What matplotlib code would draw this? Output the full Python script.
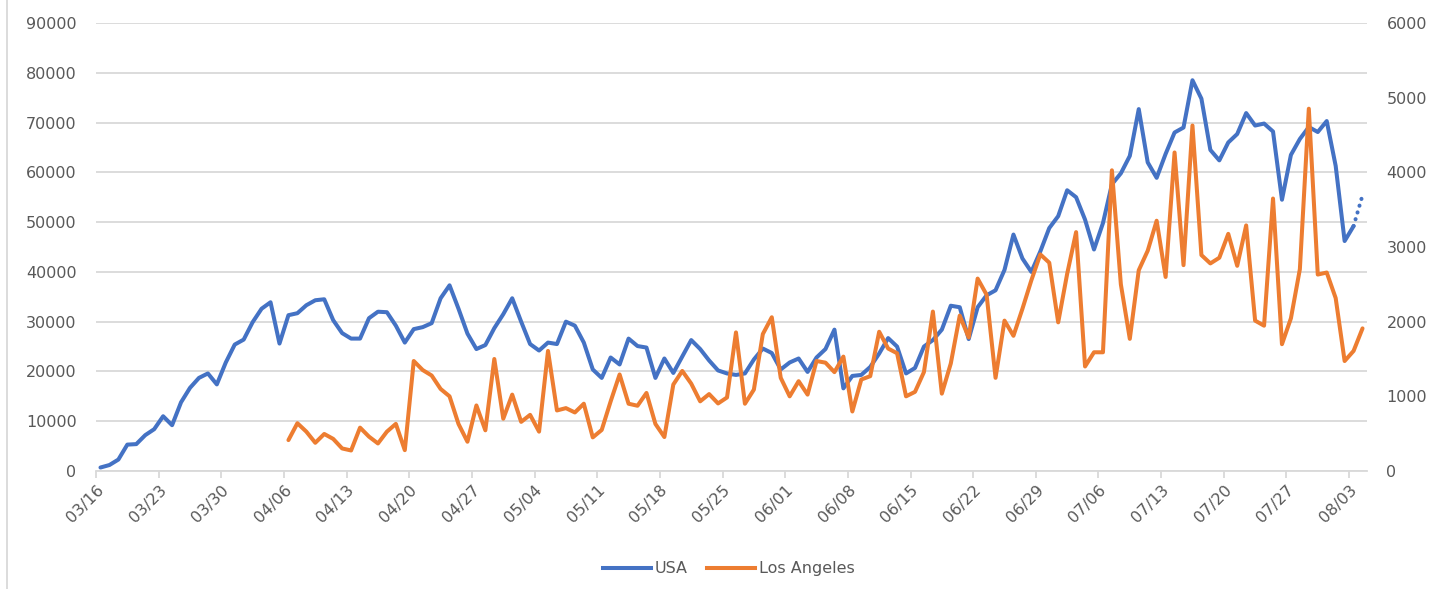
import numpy as np
import matplotlib.pyplot as plt
from matplotlib.lines import Line2D

plt.rcParams['font.family'] = 'DejaVu Sans'

# Daily values starting 03/16 (USA) - last point (08/04) is shown dotted
usa = [700, 1200, 2300, 5300, 5400, 7200, 8400,
       11000, 9200, 13800, 16700, 18700, 19600, 17400,
       21800, 25400, 26400, 29900, 32600, 33900, 25600,
       31300, 31700, 33300, 34300, 34500, 30300, 27700,
       26600, 26600, 30700, 32000, 31900, 29200, 25800,
       28500, 28900, 29700, 34700, 37300, 32600, 27600,
       24500, 25300, 28700, 31500, 34700, 30000, 25500,
       24200, 25800, 25500, 30000, 29200, 25800, 20400,
       18700, 22800, 21400, 26600, 25100, 24800, 18700,
       22600, 19700, 23000, 26300, 24500, 22200, 20200,
       19600, 19300, 19600, 22400, 24600, 23700, 20400,
       21800, 22600, 19900, 22800, 24500, 28400, 16600,
       19100, 19300, 20900, 23600, 26700, 25000, 19600,
       20700, 25000, 26300, 28400, 33200, 32900, 26500,
       32900, 35300, 36300, 40400, 47500, 42700, 40000,
       44100, 48800, 51200, 56400, 55000, 50500, 44500,
       49800, 57600, 59800, 63300, 72700, 62000, 58900,
       63700, 68000, 69000, 78500, 74800, 64500, 62400,
       66000, 67700, 71900, 69400, 69800, 68200, 54500,
       63500, 66700, 69100, 68100, 70300, 61300, 46200,
       49200]
usa_last = 55400

# Los Angeles starts on 04/06 (day 21)
la_start = 21
la = [414, 640, 527, 378, 496, 430, 302,
      275, 581, 460, 369, 527, 631, 279,
      1473, 1352, 1279, 1099, 1000, 630, 392,
      878, 545, 1500, 700, 1023, 658, 752,
      527, 1608, 811, 842, 784, 901, 450,
      550, 933, 1293, 901, 874, 1045, 630,
      455, 1158, 1340, 1170, 933, 1030, 905,
      985, 1856, 901, 1090, 1834, 2059, 1248,
      1000, 1203, 1023, 1473, 1451, 1324, 1532,
      797, 1225, 1270, 1865, 1640, 1577, 1000,
      1060, 1325, 2135, 1036, 1440, 2081, 1788,
      2577, 2361, 1248, 2014, 1811, 2171, 2554,
      2901, 2790, 1991, 2640, 3199, 1400, 1590,
      1590, 4027, 2500, 1770, 2689, 2950, 3352,
      2599, 4266, 2757, 4627, 2892, 2780, 2856,
      3176, 2748, 3289, 2014, 1946, 3649, 1698,
      2045, 2703, 4852, 2631, 2658, 2316, 1473,
      1608, 1910]

tick_labels = ['03/16', '03/23', '03/30', '04/06', '04/13', '04/20', '04/27',
               '05/04', '05/11', '05/18', '05/25', '06/01', '06/08', '06/15',
               '06/22', '06/29', '07/06', '07/13', '07/20', '07/27', '08/03']

blue = '#4472C4'
orange = '#ED7D31'
grey_text = '#595959'
grid_col = '#D9D9D9'
lw = 2.9
fs = 11.5

fig = plt.figure(figsize=(14.35, 5.89), dpi=100)
ax = fig.add_axes([96 / 1435, 1 - 471 / 589, (1367 - 96) / 1435, (471 - 23) / 589])
ax2 = ax.twinx()

x_usa = np.arange(len(usa)) + 0.5
x_la = np.arange(len(la)) + la_start + 0.5

ax.plot(x_usa, usa, color=blue, lw=lw, solid_joinstyle='round', solid_capstyle='round')
ax.plot([x_usa[-1], x_usa[-1] + 1], [usa[-1], usa_last], color=blue, lw=lw,
        linestyle=(0, (0.05, 1.7)), dash_capstyle='round')
ax2.plot(x_la, la, color=orange, lw=lw, solid_joinstyle='round', solid_capstyle='round')

ax.set_xlim(0, 142)
ax.set_ylim(0, 90000)
ax2.set_ylim(0, 6000)
ax.set_yticks(np.arange(0, 90001, 10000))
ax2.set_yticks(np.arange(0, 6001, 1000))
ax.grid(axis='y', color=grid_col, lw=1.3)
ax.set_axisbelow(True)

ax.set_xticks(np.arange(0, 141, 7))
ax.set_xticklabels(tick_labels, rotation=45, ha='right', va='top', rotation_mode='anchor')

for a in (ax, ax2):
    for s in a.spines.values():
        s.set_visible(False)
ax.spines['bottom'].set_visible(True)
ax.spines['bottom'].set_color(grid_col)
ax.spines['bottom'].set_linewidth(1.3)

ax.tick_params(axis='x', colors=grid_col, length=5, width=1.3, labelcolor=grey_text,
               labelsize=fs, pad=3)
ax.tick_params(axis='y', length=0, labelcolor=grey_text, labelsize=fs, pad=14)
ax2.tick_params(axis='y', length=0, labelcolor=grey_text, labelsize=fs, pad=14)

# chart frame edge on the left
fig.add_artist(Line2D([7 / 1435, 7 / 1435], [0, 1], color=grid_col, lw=1.3))

handles = [Line2D([], [], color=blue, lw=lw), Line2D([], [], color=orange, lw=lw)]
leg = fig.legend(handles, ['USA', 'Los Angeles'], loc='center', bbox_to_anchor=(0.508, 0.034),
                 ncol=2, frameon=False, fontsize=fs, handlelength=3.0, handletextpad=0.25,
                 columnspacing=1.2)
for t in leg.get_texts():
    t.set_color(grey_text)

fig.savefig('out.png', dpi=100)
